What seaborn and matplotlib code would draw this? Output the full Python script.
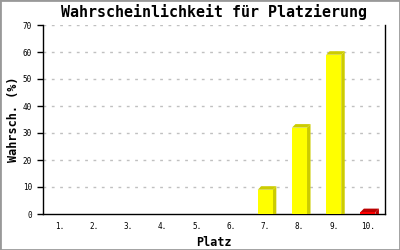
import matplotlib
matplotlib.use("Agg")
import matplotlib.pyplot as plt
import seaborn as sns
import pandas as pd
from matplotlib.patches import Polygon, Rectangle
from matplotlib.transforms import IdentityTransform

places = ["1.", "2.", "3.", "4.", "5.", "6.", "7.", "8.", "9.", "10."]
probs = [0, 0, 0, 0, 0, 0, 9.0, 32.0, 59.0, 0.7]
front_colors = ["#ffff00"] * 9 + ["#ff0000"]
side_colors = ["#cccc00"] * 9 + ["#bb0000"]
yticks = [0, 10, 20, 30, 40, 50, 60, 70]

sns.set_theme(style="white")
plt.rcParams["font.family"] = ["DejaVu Sans Mono", "DejaVu Sans"]
plt.rcParams["text.color"] = "black"
plt.rcParams["axes.labelcolor"] = "black"
plt.rcParams["xtick.color"] = "black"
plt.rcParams["ytick.color"] = "black"

df = pd.DataFrame({"Platz": places, "Wahrsch": probs})

fig = plt.figure(figsize=(4, 2.5), dpi=100)
ax = fig.add_axes([43 / 400, 36 / 250, 342 / 400, 189 / 250])

sns.barplot(data=df, x="Platz", y="Wahrsch", hue="Platz", palette=front_colors,
            legend=False, width=0.44, ax=ax, saturation=1, linewidth=0, zorder=3)

ax.set_ylim(0, 70)
ax.set_yticks(yticks)
ax.set_yticklabels([str(v) for v in yticks])
ax.set_xlim(-0.5, len(places) - 0.5)

# dashed grid
for v in yticks[1:]:
    ax.axhline(v, color="#c0c0c0", linestyle=(0, (2, 4)), linewidth=1, zorder=1)

for s in ["left", "bottom", "right"]:
    ax.spines[s].set_visible(True)
    ax.spines[s].set_color("black")
    ax.spines[s].set_linewidth(1)
ax.spines["top"].set_visible(False)

ax.tick_params(axis="y", which="both", left=True, length=4, width=1, color="black",
               labelsize=5.5, pad=4, labelcolor="black")
ax.tick_params(axis="x", which="both", bottom=False, length=0, labelsize=5.5, pad=6,
               labelcolor="black")

ax.set_xlabel("Platz", fontsize=8.5, fontweight="bold", labelpad=3, color="black")
ax.set_ylabel("Wahrsch. (%)", fontsize=8.5, fontweight="bold", labelpad=2, color="black")
ax.set_title("Wahrscheinlichkeit für Platzierung", fontsize=10.8, fontweight="bold",
             pad=6, color="black")

# 3D side and top faces derived from the drawn bars
fig.canvas.draw()
d = 3.5
for patch, val, sc in zip(ax.patches, probs, side_colors):
    if val <= 0:
        continue
    x0, y0 = patch.get_x(), patch.get_y()
    x1, y1 = x0 + patch.get_width(), y0 + patch.get_height()
    (px0, py0), (px1, py1) = ax.transData.transform([(x0, y0), (x1, y1)])
    side = Polygon([(px1, py0), (px1, py1), (px1 + d, py1 + d), (px1 + d, py0)],
                   closed=True, transform=IdentityTransform(), facecolor=sc,
                   edgecolor="none", zorder=2.9)
    top = Polygon([(px0, py1), (px1, py1), (px1 + d, py1 + d), (px0 + d, py1 + d)],
                  closed=True, transform=IdentityTransform(), facecolor=sc,
                  edgecolor="none", zorder=2.9)
    ax.add_artist(side)
    ax.add_artist(top)

fig.add_artist(Rectangle((0, 0), 1, 1, transform=fig.transFigure, fill=False,
                         edgecolor="#999999", linewidth=2))

fig.savefig("out.png", dpi=100)
